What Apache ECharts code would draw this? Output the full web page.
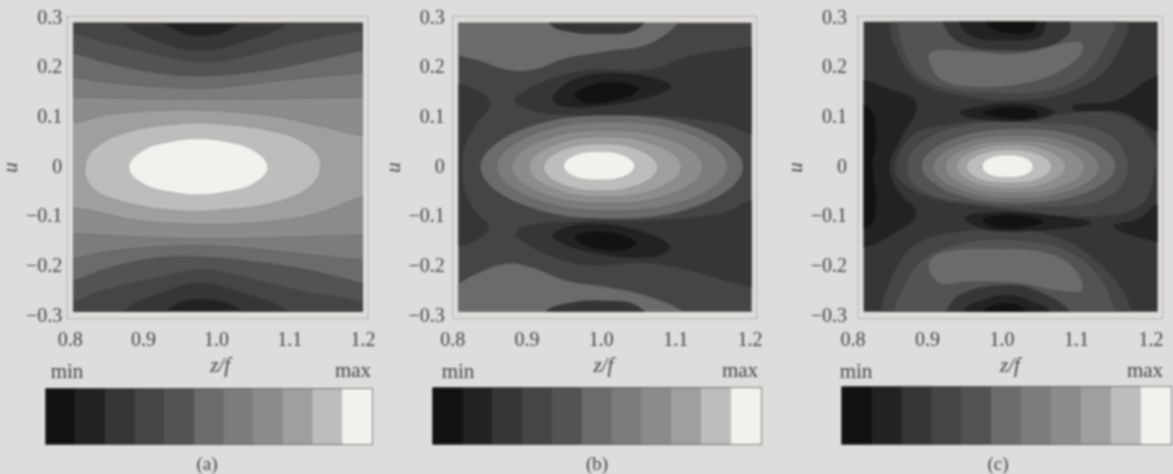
<!DOCTYPE html>
<html><head><meta charset="utf-8">
<style>html,body{margin:0;padding:0;background:#dedddb}#c{width:1173px;height:474px;filter:blur(0.8px)}</style>
<script src="https://cdn.jsdelivr.net/npm/echarts@6/dist/echarts.min.js"></script>
</head><body><div id="c"></div>
<script>
// Colour scale, from min to max
const levelColors = ['#121212','#222222','#363636','#454545','#535353','#6b6b6b','#7c7c7c','#8c8c8c','#9f9f9f','#bdbdbd','#f1f1ee'];
const scaleLevels = [0,1,2,3,4,5,6,7,8,9,10];
const captions = ['(a)','(b)','(c)'];

// Outer dotted frames and image extents: [[zMin,uMax],[zMax,uMin]]
const frameA = [[0.796,0.304],[1.207,-0.304]];
const imageA = [[0.8045,0.291],[1.1996,-0.290]];
const frameB = [[0.800,0.304],[1.209,-0.304]];
const imageB = [[0.8076,0.291],[1.2022,-0.290]];
const frameC = [[0.8067,0.304],[1.2156,-0.304]];
const imageC = [[0.8143,0.293],[1.2089,-0.290]];

// Panel (a) contours [z,u]
const a2 = [[0.75,0.34],[0.925,0.34],[0.93,0.29],[0.98,0.265],[1.03,0.29],[1.04,0.34],[1.25,0.34],[1.25,-0.34],[1.045,-0.34],[1.035,-0.29],[0.98,-0.265],[0.93,-0.29],[0.92,-0.34],[0.75,-0.34]];
const a3 = [[0.75,0.34],[0.86,0.34],[0.873,0.291],[0.92,0.255],[0.976,0.236],[1.04,0.255],[1.097,0.291],[1.11,0.34],[1.25,0.34],[1.25,-0.34],[1.11,-0.34],[1.097,-0.29],[1.04,-0.255],[0.976,-0.233],[0.92,-0.255],[0.873,-0.29],[0.86,-0.34],[0.75,-0.34]];
const a4 = [[0.75,0.29],[0.805,0.27],[0.846,0.253],[0.936,0.222],[0.98,0.212],[1.025,0.219],[1.115,0.253],[1.2,0.276],[1.25,0.29],[1.25,-0.29],[1.2,-0.27],[1.115,-0.248],[1.025,-0.216],[0.98,-0.206],[0.936,-0.216],[0.846,-0.247],[0.805,-0.27],[0.75,-0.29]];
const a5 = [[0.75,0.24],[0.805,0.229],[0.846,0.212],[0.913,0.192],[0.98,0.184],[1.07,0.196],[1.138,0.216],[1.2,0.236],[1.25,0.25],[1.25,-0.25],[1.2,-0.233],[1.138,-0.21],[1.07,-0.193],[0.98,-0.18],[0.913,-0.183],[0.846,-0.205],[0.805,-0.227],[0.75,-0.24]];
const a6 = [[0.75,0.185],[0.805,0.181],[0.846,0.172],[0.936,0.161],[1.003,0.161],[1.093,0.176],[1.2,0.19],[1.25,0.195],[1.25,-0.19],[1.2,-0.186],[1.093,-0.17],[1.003,-0.158],[0.936,-0.158],[0.846,-0.17],[0.805,-0.183],[0.75,-0.19]];
const a7 = [[0.75,0.141],[0.805,0.141],[0.98,0.137],[1.2,0.141],[1.25,0.141],[1.25,-0.137],[1.2,-0.136],[0.98,-0.143],[0.805,-0.133],[0.75,-0.13]];
const a8 = [[0.75,0.1],[0.805,0.09],[0.846,0.105],[0.913,0.114],[0.98,0.115],[1.07,0.105],[1.138,0.085],[1.2,0.063],[1.25,0.05],[1.25,-0.05],[1.2,-0.059],[1.138,-0.092],[1.07,-0.109],[0.98,-0.114],[0.89,-0.106],[0.846,-0.092],[0.805,-0.081],[0.75,-0.075]];
const a9 = [[0.82,0],[0.835,0.04],[0.88,0.072],[0.95,0.088],[1.0,0.088],[1.07,0.075],[1.12,0.05],[1.142,0.01],[1.13,-0.035],[1.08,-0.07],[1.0,-0.086],[0.94,-0.086],[0.87,-0.068],[0.83,-0.04]];
const a10 = [[0.88,0],[0.90,0.035],[0.94,0.053],[0.975,0.058],[1.01,0.053],[1.05,0.035],[1.07,0],[1.05,-0.033],[1.01,-0.05],[0.975,-0.055],[0.94,-0.05],[0.90,-0.033]];

// Panel (b) contours [z,u]
const bLobeTop = [[0.75,0.24],[0.79,0.23],[0.832,0.216],[0.873,0.196],[0.908,0.196],[0.953,0.219],[1.007,0.233],[1.065,0.249],[1.11,0.30],[1.12,0.34],[0.75,0.34]];
const bLobeBottom = [[0.75,-0.25],[0.79,-0.245],[0.832,-0.213],[0.873,-0.193],[0.905,-0.20],[0.953,-0.227],[1.007,-0.24],[1.065,-0.26],[1.12,-0.30],[1.13,-0.34],[0.75,-0.34]];
const bCapTop = [[0.915,0.34],[0.93,0.29],[0.95,0.275],[1.0,0.269],[1.05,0.28],[1.07,0.34]];
const bCapBottom = [[0.91,-0.34],[0.925,-0.29],[0.96,-0.272],[1.0,-0.268],[1.05,-0.28],[1.075,-0.34]];
const bWedge = [[0.75,0.175],[0.80,0.169],[0.832,0.155],[0.85,0.129],[0.832,0.088],[0.817,0.048],[0.812,0.001],[0.817,-0.052],[0.832,-0.092],[0.848,-0.119],[0.832,-0.146],[0.80,-0.16],[0.75,-0.165]];
const bBandTop = [[1.25,0.25],[1.202,0.243],[1.119,0.223],[1.065,0.196],[0.967,0.192],[0.884,0.139],[0.908,0.115],[0.967,0.105],[1.074,0.105],[1.164,0.088],[1.202,0.068],[1.25,0.06]];
const bBandBottom = [[1.25,-0.06],[1.202,-0.066],[1.164,-0.092],[1.074,-0.106],[0.967,-0.109],[0.895,-0.119],[0.886,-0.139],[0.967,-0.193],[1.074,-0.193],[1.202,-0.24],[1.25,-0.25]];
const bDarkTop = [[0.935,0.142],[0.967,0.179],[1.029,0.189],[1.088,0.172],[1.092,0.159],[1.047,0.135],[0.985,0.122],[0.944,0.125]];
const bDarkBottom = [[0.935,-0.139],[0.962,-0.116],[1.029,-0.119],[1.092,-0.156],[1.07,-0.18],[0.985,-0.17]];
const bCoreTop = [[0.964,0.145],[0.985,0.165],[1.02,0.172],[1.05,0.159],[1.029,0.139],[0.985,0.129]];
const bCoreBottom = [[0.964,-0.139],[1.002,-0.129],[1.047,-0.149],[1.029,-0.166],[0.985,-0.16]];
const b5 = [[0.837,0.001],[0.889,0.074],[1.014,0.105],[1.139,0.074],[1.191,0.001],[1.139,-0.072],[1.014,-0.103],[0.889,-0.072]];
const b6 = [[0.859,0.002],[0.905,0.065],[1.014,0.092],[1.124,0.065],[1.17,0.002],[1.124,-0.061],[1.014,-0.087],[0.905,-0.061]];
const b7 = [[0.879,0.001],[0.917,0.053],[1.008,0.075],[1.099,0.053],[1.137,0.001],[1.099,-0.051],[1.008,-0.072],[0.917,-0.051]];
const b8 = [[0.902,0.001],[0.932,0.043],[1.005,0.062],[1.078,0.043],[1.108,0.001],[1.078,-0.041],[1.005,-0.059],[0.932,-0.041]];
const b9 = [[0.922,0],[0.945,0.034],[0.999,0.048],[1.053,0.034],[1.076,0],[1.053,-0.033],[0.999,-0.047],[0.945,-0.033]];
const b10 = [[0.949,0.003],[0.963,0.024],[0.997,0.032],[1.031,0.024],[1.045,0.003],[1.031,-0.018],[0.997,-0.025],[0.963,-0.018]];

// Panel (c) contours [z,u]
const cLeftDark = [[0.75,0.19],[0.814,0.176],[0.84,0.162],[0.885,0.129],[0.863,0.055],[0.849,0.001],[0.863,-0.052],[0.885,-0.092],[0.854,-0.133],[0.814,-0.16],[0.75,-0.17]];
const cLeftCore = [[0.75,0.125],[0.82,0.122],[0.831,0.06],[0.826,0.001],[0.831,-0.07],[0.82,-0.119],[0.75,-0.125]];
const cRightUpper = [[1.25,0.19],[1.209,0.185],[1.153,0.135],[1.095,0.125],[1.1,0.112],[1.16,0.112],[1.205,0.075],[1.25,0.06]];
const cRightLower = [[1.25,-0.08],[1.209,-0.075],[1.184,-0.103],[1.15,-0.119],[1.209,-0.15],[1.25,-0.16]];
const cTop3 = [[0.845,0.34],[0.849,0.291],[0.854,0.249],[0.885,0.176],[0.952,0.142],[1.019,0.135],[1.086,0.149],[1.135,0.189],[1.167,0.263],[1.171,0.291],[1.18,0.34]];
const cTop4 = [[0.855,0.34],[0.858,0.291],[0.878,0.202],[0.916,0.162],[1.01,0.149],[1.077,0.159],[1.117,0.196],[1.149,0.269],[1.153,0.291],[1.16,0.34]];
const cTop5 = [[0.901,0.223],[0.912,0.236],[0.965,0.233],[1.019,0.229],[1.091,0.253],[1.108,0.249],[1.104,0.223],[1.068,0.186],[1.019,0.166],[0.956,0.162],[0.916,0.179]];
const cTopCap2 = [[0.92,0.34],[0.921,0.291],[0.945,0.25],[1.0,0.236],[1.06,0.243],[1.09,0.27],[1.091,0.291],[1.1,0.34]];
const cTopCap1 = [[0.94,0.34],[0.943,0.291],[0.96,0.263],[1.0,0.256],[1.05,0.263],[1.059,0.291],[1.065,0.34]];
const cTopCap0 = [[0.975,0.34],[0.979,0.291],[1.0,0.272],[1.04,0.272],[1.046,0.291],[1.05,0.34]];
const cBot3 = [[0.83,-0.34],[0.836,-0.29],[0.854,-0.213],[0.885,-0.153],[0.952,-0.126],[1.019,-0.123],[1.086,-0.146],[1.131,-0.193],[1.162,-0.247],[1.175,-0.29],[1.185,-0.34]];
const cBot4 = [[0.85,-0.34],[0.854,-0.29],[0.872,-0.227],[0.898,-0.18],[0.956,-0.149],[1.019,-0.146],[1.086,-0.166],[1.131,-0.22],[1.153,-0.29],[1.16,-0.34]];
const cBot5 = [[0.901,-0.193],[0.921,-0.17],[0.997,-0.163],[1.064,-0.173],[1.099,-0.206],[1.108,-0.247],[1.086,-0.25],[1.019,-0.233],[0.952,-0.23],[0.916,-0.233]];
const cBotCap2 = [[0.92,-0.34],[0.925,-0.29],[0.948,-0.253],[1.01,-0.237],[1.05,-0.25],[1.091,-0.29],[1.1,-0.34]];
const cBotCap1 = [[0.945,-0.34],[0.948,-0.29],[0.974,-0.267],[1.01,-0.257],[1.046,-0.273],[1.064,-0.29],[1.07,-0.34]];
const cBotCap0 = [[0.97,-0.34],[0.974,-0.29],[1.01,-0.273],[1.032,-0.29],[1.04,-0.34]];
const cMid3 = [[0.856,0.001],[0.872,0.055],[0.907,0.082],[1.064,0.105],[1.153,0.109],[1.202,0.055],[1.205,-0.012],[1.184,-0.079],[1.108,-0.099],[0.974,-0.079],[0.898,-0.059],[0.863,-0.025]];
const cMid4 = [[0.872,0.001],[0.89,0.05],[0.95,0.085],[1.05,0.09],[1.14,0.07],[1.17,0.001],[1.14,-0.062],[1.05,-0.08],[0.95,-0.07],[0.89,-0.045]];
const c5 = [[0.892,0.003],[0.93,0.056],[1.022,0.078],[1.115,0.056],[1.153,0.003],[1.115,-0.05],[1.022,-0.072],[0.93,-0.05]];
const c6 = [[0.907,0.001],[0.94,0.046],[1.019,0.065],[1.098,0.046],[1.131,0.001],[1.098,-0.044],[1.019,-0.062],[0.94,-0.044]];
const c7 = [[0.923,0.001],[0.95,0.039],[1.017,0.055],[1.084,0.039],[1.111,0.001],[1.084,-0.037],[1.017,-0.052],[0.95,-0.037]];
const c8 = [[0.938,0.002],[0.96,0.033],[1.012,0.047],[1.064,0.033],[1.086,0.002],[1.064,-0.03],[1.012,-0.042],[0.96,-0.03]];
const c9 = [[0.952,0.002],[0.969,0.026],[1.01,0.036],[1.05,0.026],[1.067,0.002],[1.05,-0.023],[1.01,-0.031],[0.969,-0.023]];
const c10 = [[0.973,0.002],[0.983,0.019],[1.008,0.025],[1.032,0.019],[1.042,0.002],[1.032,-0.015],[1.008,-0.02],[0.983,-0.015]];
const cBlobTop1 = [[0.943,0.11],[0.98,0.125],[1.02,0.129],[1.055,0.122],[1.07,0.11],[1.04,0.095],[0.98,0.095]];
const cBlobTop0 = [[0.974,0.11],[1.01,0.122],[1.046,0.115],[1.046,0.102],[1.01,0.098]];
const cBlobBot1 = [[0.95,-0.1],[1.0,-0.09],[1.06,-0.095],[1.12,-0.112],[1.06,-0.125],[0.98,-0.125]];
const cBlobBot0 = [[0.974,-0.105],[1.01,-0.095],[1.055,-0.108],[1.03,-0.12],[0.99,-0.12]];

// Painting order, back to front: [level, contour]; the image itself is painted first
const regionsA = [[1,null],[2,a2],[3,a3],[4,a4],[5,a5],[6,a6],[7,a7],[8,a8],[9,a9],[10,a10]];
const regionsB = [[3,null],[5,bLobeTop],[5,bLobeBottom],[2,bCapTop],[2,bCapBottom],[2,bWedge],[2,bBandTop],[2,bBandBottom],[1,bDarkTop],[1,bDarkBottom],[0,bCoreTop],[0,bCoreBottom],[5,b5],[6,b6],[7,b7],[8,b8],[9,b9],[10,b10]];
const regionsC = [[2,null],[1,cLeftDark],[0,cLeftCore],[1,cRightUpper],[1,cRightLower],[3,cTop3],[4,cTop4],[5,cTop5],[2,cTopCap2],[1,cTopCap1],[0,cTopCap0],[3,cBot3],[4,cBot4],[5,cBot5],[2,cBotCap2],[1,cBotCap1],[0,cBotCap0],[3,cMid3],[4,cMid4],[5,c5],[6,c6],[7,c7],[8,c8],[9,c9],[10,c10],[1,cBlobTop1],[0,cBlobTop0],[1,cBlobBot1],[0,cBlobBot0]];

const ink = '#444444';
const serif = '"Liberation Serif", serif';
const panels = [
  {regions:regionsA, image:imageA, frame:frameA, left:66, right:363, barL:46, barR:372, barT:389, barB:444, yGap:8, uGap:42,
   minX:67, maxX:353, capX:207, nameShift:7},
  {regions:regionsB, image:imageB, frame:frameB, left:452.7, right:750, barL:433, barR:761, barT:388, barB:444, yGap:8, uGap:39,
   minX:458, maxX:740, capX:597, nameShift:4},
  {regions:regionsC, image:imageC, frame:frameC, left:853, right:1151, barL:842, barR:1171, barT:387, barB:444, yGap:6, uGap:38,
   minX:856, maxX:1145, capX:998, nameShift:16}
];
const W = 1173, TOP = 18.3, BOTTOM = 316.7;
const grids = [], xAxes = [], yAxes = [], series = [], titles = [];
const txt = {fontFamily:serif, color:ink};

panels.forEach(function (p, i) {
  const g = grids.length;
  grids.push({left:p.left, top:TOP, width:p.right-p.left, height:BOTTOM-TOP});
  xAxes.push({gridIndex:g, type:'value', min:0.8, max:1.2, interval:0.1,
    axisLine:{show:false}, axisTick:{show:false}, splitLine:{show:false},
    axisLabel:Object.assign({margin:14, fontSize:20, showMinLabel:true, showMaxLabel:true, formatter:function(v){return v.toFixed(1);}}, txt),
    name:'z/f', nameLocation:'middle', nameGap:39,
    nameTextStyle:{fontFamily:serif, color:ink, fontSize:21, fontStyle:'italic', padding:[0,0,0,p.nameShift]}});
  yAxes.push({gridIndex:g, type:'value', min:-0.3, max:0.3, interval:0.1,
    axisLine:{show:false}, axisTick:{show:false}, splitLine:{show:false},
    axisLabel:Object.assign({margin:p.yGap, fontSize:20, formatter:function(v){return v===0?'0':v.toFixed(1).replace('-','\u2212');}}, txt),
    name:'u', nameLocation:'middle', nameGap:p.uGap, nameRotate:90,
    nameTextStyle:{fontFamily:serif, color:ink, fontSize:21, fontStyle:'italic'}});
  series.push({type:'custom', coordinateSystem:'cartesian2d', xAxisIndex:g, yAxisIndex:g, clip:false, silent:true,
    data:p.regions.map(function(r){return [r[0]];}),
    renderItem:function(params, api){
      const r = p.regions[params.dataIndex];
      const a = api.coord(p.image[0]), b = api.coord(p.image[1]);
      const clip = {type:'rect', shape:{x:a[0], y:a[1], width:b[0]-a[0], height:b[1]-a[1]}};
      if (!r[1]) return {type:'rect', shape:clip.shape, style:{fill:levelColors[r[0]]}};
      return {type:'polygon', clipPath:clip,
        shape:{points:r[1].map(function(q){return api.coord(q);}), smooth:0.4},
        style:{fill:levelColors[r[0]], stroke:'rgba(25,25,25,0.4)', lineWidth:1, lineDash:[1.5,2.5]}};
    }});
  series.push({type:'custom', coordinateSystem:'cartesian2d', xAxisIndex:g, yAxisIndex:g, clip:false, silent:true,
    data:[[0]],
    renderItem:function(params, api){
      const a = api.coord(p.frame[0]), b = api.coord(p.frame[1]);
      return {type:'rect', shape:{x:a[0], y:a[1], width:b[0]-a[0], height:b[1]-a[1]},
        style:{fill:'none', stroke:'#8b8b8b', lineWidth:1, lineDash:[2,2]}};
    }});

  // colour scale strip
  const h = grids.length;
  grids.push({left:p.barL, top:p.barT, width:p.barR-p.barL, height:p.barB-p.barT, show:true, backgroundColor:'transparent', borderColor:'#333333', borderWidth:1.5});
  xAxes.push({gridIndex:h, type:'category', data:scaleLevels.map(String), axisLine:{show:false}, axisTick:{show:false}, axisLabel:{show:false}, splitLine:{show:false}});
  yAxes.push({gridIndex:h, type:'category', data:['s'], axisLine:{show:false}, axisTick:{show:false}, axisLabel:{show:false}, splitLine:{show:false}});
  series.push({type:'heatmap', xAxisIndex:h, yAxisIndex:h, silent:true,
    data:scaleLevels.map(function(l,k){return {value:[k,0,l], itemStyle:{color:levelColors[l]}};})});

  const t = {fontFamily:serif, color:ink, fontWeight:'normal', fontSize:21};
  titles.push({text:'min', left:p.minX, top:372, textAlign:'center', textVerticalAlign:'middle', padding:0, textStyle:t});
  titles.push({text:'max', left:p.maxX, top:371, textAlign:'center', textVerticalAlign:'middle', padding:0, textStyle:t});
  titles.push({text:captions[i], left:p.capX, top:465, textAlign:'center', textVerticalAlign:'middle', padding:0, textStyle:Object.assign({},t,{fontSize:19})});
});

const chart = echarts.init(document.getElementById('c'), null, {width:W, height:474});
chart.setOption({animation:false, backgroundColor:'#dedddb', title:titles, grid:grids, xAxis:xAxes, yAxis:yAxes, series:series, tooltip:{show:false}});
</script></body></html>
